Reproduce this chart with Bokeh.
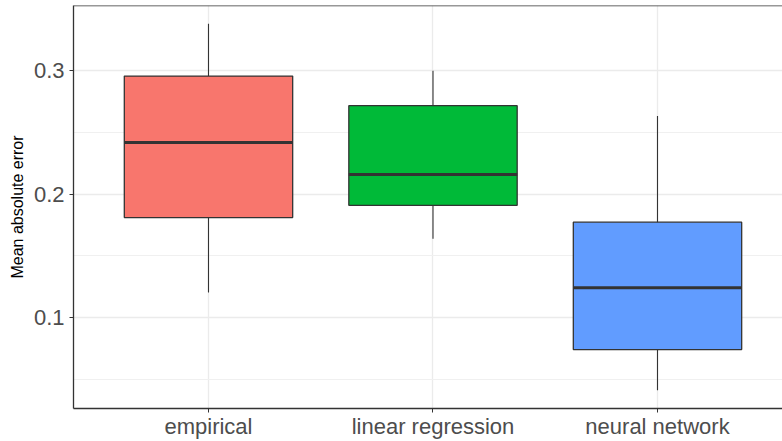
from bokeh.plotting import figure
from bokeh.models import Range1d, FixedTicker, Span, ColumnDataSource
from bokeh.embed import file_html
from bokeh.resources import INLINE

# data
categories = ["empirical", "linear regression", "neural network"]
whisker_low = [0.1206, 0.1639, 0.0416]
q1 = [0.1810, 0.1909, 0.0745]
median = [0.2416, 0.2157, 0.1243]
q3 = [0.2952, 0.2713, 0.1773]
whisker_high = [0.3375, 0.2995, 0.2630]
colors = ["#F8766D", "#00BA38", "#619CFF"]
y_ticks = [0.1, 0.2, 0.3]
y_minor = [0.05, 0.15, 0.25]

xs = [i + 1 for i in range(len(categories))]
src = ColumnDataSource(dict(x=xs, lo=whisker_low, q1=q1, med=median, q3=q3,
                            hi=whisker_high, color=colors,
                            ml=[x - 0.375 for x in xs], mr=[x + 0.375 for x in xs]))

FONT = "Liberation Sans"
Y_TOP = 0.3522
Y_BOT = 0.0269

p = figure(width=782, height=441, output_backend="svg", toolbar_location=None,
           x_range=Range1d(0.3987, 3.5568), y_range=Range1d(Y_BOT, Y_TOP),
           min_border_left=73, min_border_top=5, min_border_bottom=31,
           min_border_right=0)
p.outline_line_color = None
p.background_fill_color = "white"
p.border_fill_color = "white"

# grids
p.xaxis.ticker = FixedTicker(ticks=xs, minor_ticks=[])
p.yaxis.ticker = FixedTicker(ticks=y_ticks, minor_ticks=y_minor)
p.xgrid.grid_line_color = "#EBEBEB"
p.xgrid.grid_line_width = 1.3
p.ygrid.grid_line_color = "#EBEBEB"
p.ygrid.grid_line_width = 1.3
p.ygrid.minor_grid_line_color = "#F0F0F0"
p.ygrid.minor_grid_line_width = 1.0

# whiskers
p.segment(x0="x", y0="q3", x1="x", y1="hi", source=src, line_color="#333333", line_width=1.1)
p.segment(x0="x", y0="lo", x1="x", y1="q1", source=src, line_color="#333333", line_width=1.1)
# boxes
p.vbar(x="x", width=0.75, bottom="q1", top="q3", source=src, fill_color="color",
       line_color="#333333", line_width=1.3)
# medians
p.segment(x0="ml", y0="med", x1="mr", y1="med", source=src,
          line_color="#333333", line_width=3)

# panel border top
p.add_layout(Span(location=Y_TOP, dimension="width", line_color="#333333", line_width=1.3))

# axes
for ax in (p.xaxis[0], p.yaxis[0]):
    ax.axis_line_color = "#333333"
    ax.axis_line_width = 1.3
    ax.major_tick_line_color = "#333333"
    ax.major_tick_in = 0
    ax.major_tick_out = 4
    ax.minor_tick_line_color = None
    ax.major_label_text_font = FONT
    ax.major_label_text_font_size = "22px"
    ax.major_label_text_color = "#4D4D4D"

p.xaxis.major_label_overrides = {x: c for x, c in zip(xs, categories)}
p.xaxis.major_label_standoff = 1
p.yaxis.major_label_standoff = 5
p.yaxis.formatter.use_scientific = False
p.yaxis.axis_label = "Mean absolute error"
p.yaxis.axis_label_text_font = FONT
p.yaxis.axis_label_text_font_size = "16px"
p.yaxis.axis_label_text_font_style = "normal"
p.yaxis.axis_label_text_color = "black"
p.yaxis.axis_label_standoff = 5

open("out.html", "w").write(file_html(p, INLINE))
